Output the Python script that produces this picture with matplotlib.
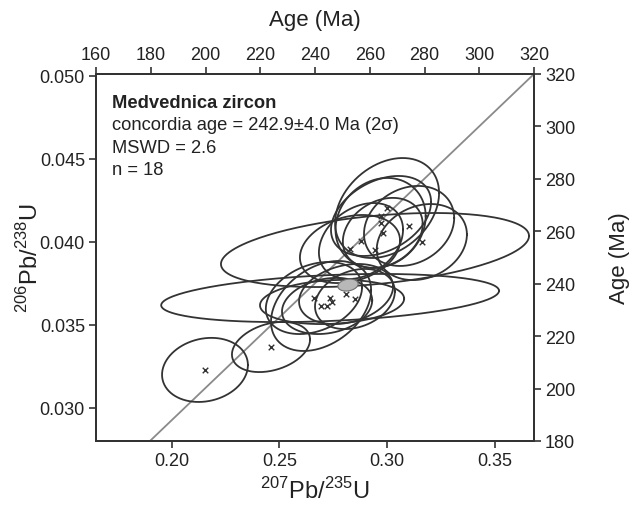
import numpy as np
import matplotlib
matplotlib.use("Agg")
import matplotlib.pyplot as plt

plt.rcParams['font.family'] = ['Liberation Sans', 'DejaVu Sans']
plt.rcParams['mathtext.fontset'] = 'custom'
plt.rcParams['mathtext.rm'] = 'Liberation Sans'

# spot analyses: 207Pb/235U, 206Pb/238U, 2 sigma half-widths, error correlation
pb207_u235 = [0.2155, 0.2461, 0.2660, 0.2735, 0.2744, 0.2693, 0.2721, 0.2809, 0.2850,
              0.2999, 0.2971, 0.2969, 0.2979, 0.2878, 0.2827, 0.2943, 0.3101, 0.3160]
pb206_u238 = [0.03228, 0.03366, 0.03661, 0.03661, 0.03637, 0.03613, 0.03613, 0.03685, 0.03655,
              0.04203, 0.04155, 0.04113, 0.04053, 0.04004, 0.03956, 0.03950, 0.04095, 0.03998]
err_x = [0.0199, 0.0181, 0.0223, 0.0783, 0.0334, 0.0232, 0.0209, 0.0218, 0.0185,
         0.0241, 0.0232, 0.0209, 0.0185, 0.0195, 0.0232, 0.0714, 0.0209, 0.0209]
err_y = [0.00193, 0.00151, 0.00217, 0.00145, 0.00133, 0.00271, 0.00169, 0.00181, 0.00181,
         0.00301, 0.00241, 0.00271, 0.00211, 0.00229, 0.00205, 0.00223, 0.00241, 0.00229]
rho = [0.15, 0.30, 0.30, 0.30, 0.15, 0.35, 0.20, 0.25, 0.25,
       0.30, 0.35, 0.15, 0.25, 0.30, 0.25, 0.38, 0.20, 0.20]

# concordia age ellipse
conc_x, conc_y, conc_ex, conc_ey, conc_rho = 0.2818, 0.03739, 0.0047, 0.00036, 0.2

# concordia curve
concordia_x = [0.190, 0.368]
concordia_y = [0.0280, 0.0501]

x_ticks = [0.20, 0.25, 0.30, 0.35]
y_ticks = [0.030, 0.035, 0.040, 0.045, 0.050]
age_top_ticks = [160, 180, 200, 220, 240, 260, 280, 300, 320]
age_right_ticks = [180, 200, 220, 240, 260, 280, 300, 320]

dark = '#333333'
txt = '#222222'


def ellipse_xy(x, y, sx, sy, r, n=240):
    t = np.linspace(0, 2 * np.pi, n)
    ex = x + sx * np.cos(t)
    ey = y + sy * (r * np.cos(t) + np.sqrt(1 - r ** 2) * np.sin(t))
    return ex, ey


fig = plt.figure(figsize=(6.38, 5.06), dpi=100)
ax = fig.add_axes([0.1505, 0.1265, 0.6865, 0.7253])

ax.plot(concordia_x, concordia_y, color='#8a8a8a', lw=1.3, zorder=1)

for x, y, sx, sy, r in zip(pb207_u235, pb206_u238, err_x, err_y, rho):
    ex, ey = ellipse_xy(x, y, sx, sy, r)
    ax.plot(ex, ey, color=dark, lw=1.3, zorder=2)
ax.scatter(pb207_u235, pb206_u238, marker='x', s=16, color=dark, linewidths=1.0, zorder=3)

ex, ey = ellipse_xy(conc_x, conc_y, conc_ex, conc_ey, conc_rho)
ax.fill(ex, ey, facecolor='#b8b8b8', edgecolor='#6e6e6e', lw=0.8, zorder=4)

ax.set_xlim(0.165, 0.368)
ax.set_ylim(0.0280, 0.0501)
ax.set_xticks(x_ticks)
ax.set_xticklabels([f'{v:.2f}' for v in x_ticks])
ax.set_yticks(y_ticks)
ax.set_yticklabels([f'{v:.3f}' for v in y_ticks])
ax.tick_params(direction='out', length=5, width=1.2, color=dark, labelsize=13,
               labelcolor=txt, pad=3)
ax.set_xlabel('$^{207}$Pb/$^{235}$U', fontsize=17, color=txt, labelpad=6)
ax.set_ylabel('$^{206}$Pb/$^{238}$U', fontsize=17, color=txt, labelpad=-2)

top = ax.twiny()
top.set_xlim(160, 320)
top.set_xticks(age_top_ticks)
top.tick_params(direction='out', length=5, width=1.2, color=dark, labelsize=13,
                labelcolor=txt, pad=3)
top.set_xlabel('Age (Ma)', fontsize=16, color=txt, labelpad=15)

right = ax.twinx()
right.set_ylim(180, 320)
right.set_yticks(age_right_ticks)
right.tick_params(direction='out', length=5, width=1.2, color=dark, labelsize=13,
                  labelcolor=txt, pad=3)
right.set_ylabel('Age (Ma)', fontsize=16, color=txt, labelpad=24)

for a in (ax, top, right):
    for s in a.spines.values():
        s.set_color(dark)
        s.set_linewidth(1.3)

ax.text(0.037, 0.923, 'Medvednica zircon', transform=ax.transAxes, fontsize=13.2,
        fontweight='bold', color=txt, va='center')
ax.text(0.037, 0.862, 'concordia age = 242.9±4.0 Ma (2σ)', transform=ax.transAxes,
        fontsize=13.2, color=txt, va='center')
ax.text(0.037, 0.801, 'MSWD = 2.6', transform=ax.transAxes, fontsize=13.2,
        color=txt, va='center')
ax.text(0.037, 0.740, 'n = 18', transform=ax.transAxes, fontsize=13.2,
        color=txt, va='center')

fig.savefig('out.png', dpi=100)
